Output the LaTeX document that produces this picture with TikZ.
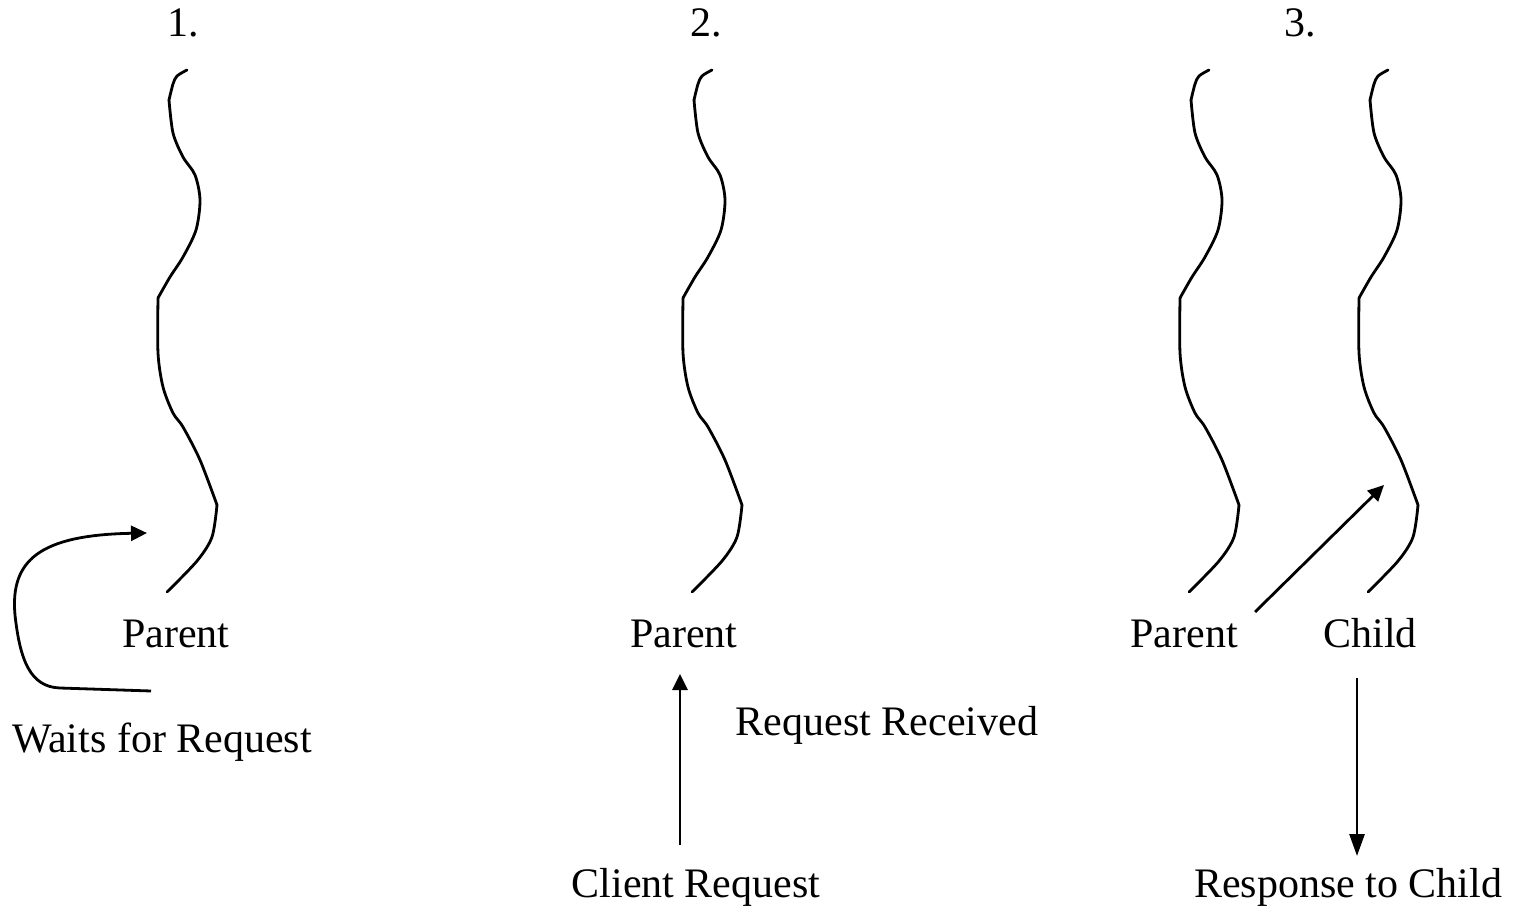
\documentclass[tikz,border=0pt]{standalone}
\usepackage{fontspec}
\setmainfont{Liberation Serif}
\usetikzlibrary{arrows.meta}
\tikzset{
  wire/.style={line width=1.4pt, line join=round, line cap=round},
  conn/.style={line width=1.4pt, -{Triangle[length=8pt,width=7.5pt]}},
  lbl/.style={anchor=base, inner sep=0pt, font=\fontsize{21}{25}\selectfont},
  thread/.pic={
    \draw[wire] plot[smooth] coordinates {(187,70) (177,76) (173,84) (169,100)};
    \draw[wire] plot[smooth] coordinates {(169,100) (173,133) (183,157) (195,175) (200,200) (196,230) (183,257) (170,277) (158,298)};
    \draw[wire] plot[smooth] coordinates {(158,298) (158,353) (163,387) (173,413) (183,427) (200,460) (217,505)};
    \draw[wire] plot[smooth] coordinates {(217,505) (212,537) (197,561) (167,592)};
  }
}
\begin{document}
\begin{tikzpicture}[x=0.5pt,y=-0.5pt]
  \useasboundingbox (0,0) rectangle (1513,913);

  % step numbers
  \node[lbl] (n1) at (183,37) {1.};
  \node[lbl] (n2) at (706,37) {2.};
  \node[lbl] (n3) at (1300,37) {3.};

  % threads of execution
  \pic at (0,0) {thread};
  \pic at (525,0) {thread};
  \pic at (1022,0) {thread};
  \pic at (1201,0) {thread};

  % thread labels
  \node[lbl] (p1) at (176,647) {Parent};
  \node[lbl] (p2) at (684,647) {Parent};
  \node[lbl] (p3) at (1184,647) {Parent};
  \node[lbl] (c3) at (1370,647) {Child};

  % event labels
  \node[lbl] (wait) at (162,752) {Waits for Request};
  \node[lbl] (recv) at (887,735) {Request Received};
  \node[lbl] (creq) at (696,897) {Client Request};
  \node[lbl] (resp) at (1348,897) {Response to Child};

  % connector end points
  \coordinate (w0) at (151,691);
  \coordinate (w1) at (147,533);
  \coordinate (r0) at (680,845);
  \coordinate (r1) at (680,674);
  \coordinate (f0) at (1255,612);
  \coordinate (f1) at (1384,485);
  \coordinate (s0) at (1357,678);
  \coordinate (s1) at (1357,856);

  % step 1: parent loops waiting
  \draw[conn] (w0) -- (60,688) .. controls (30,687) and (20,660) .. (15,615)
    .. controls (10,560) and (40,535) .. (w1);
  % step 2: client request arrives
  \draw[conn] (r0) -- (r1);
  % step 3: parent forks a child, child responds
  \draw[conn] (f0) -- (f1);
  \draw[line width=1.4pt, -{Triangle[length=11pt,width=7.5pt]}] (s0) -- (s1);
\end{tikzpicture}
\end{document}
